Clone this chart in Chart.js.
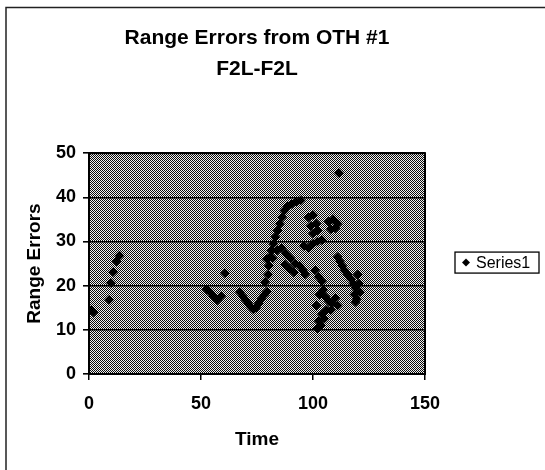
<!DOCTYPE html>
<html><head><meta charset="utf-8">
<script src="https://cdn.jsdelivr.net/npm/chart.js@4/dist/chart.umd.min.js"></script>
<style>html,body{margin:0;padding:0;background:#fff}#wrap{width:545px;height:470px;position:relative}</style>
</head><body><div id="wrap"><canvas id="c" width="545" height="470"></canvas></div>
<script>
const titleLines = ['Range Errors from OTH #1', 'F2L-F2L'];
const seriesName = 'Series1';
const xAxisTitle = 'Time';
const yAxisTitle = 'Range Errors';
const xTicks = [0, 50, 100, 150];
const yTicks = [0, 10, 20, 30, 40, 50];

const timeValues = [
  0, 1, 2, 9, 9.8, 10.8, 12.3, 13.6,
  52.5, 54, 55.5, 57.3, 59, 60.7,
  67.4, 68.6, 69.8, 71, 72.2, 73.4, 74.6, 75.8, 77, 78.2, 79.4, 78.6,
  80, 80.3, 80.7, 81.5, 82.3, 83.2, 84.2, 85.2, 86.2, 87.2, 88.7, 90.5, 92.5, 94.5,
  79.5, 82, 84, 86, 88, 90, 92, 94, 95.5, 96.5, 87.5, 89.5, 91.5,
  98, 100, 99, 101.5, 100, 102, 107, 109, 111, 108, 110, 96, 98, 100, 102, 104, 111.6,
  111, 112, 113, 114, 115.5, 117, 118, 119, 118.5, 119.5, 120, 120.5, 121, 119,
  101, 102.5, 104, 104.5, 103, 105.5, 107, 108.5, 110, 111, 108, 106, 104, 102.5, 103.5, 102, 105, 101.5
];
const rangeErrors = [
  14.2, 14.5, 14.0, 16.8, 20.6, 23.1, 25.5, 26.8,
  19.2, 18.5, 17.6, 16.7, 17.6, 22.8,
  18.5, 17.6, 16.8, 16, 15.2, 14.6, 15, 16, 17, 17.9, 18.6, 20.8,
  22.5, 24.5, 26.5, 28, 29.5, 31, 32.5, 34, 35.5, 37, 38, 38.5, 39, 39.3,
  26, 26.2, 28, 28.5, 27.2, 26.2, 25, 24.5, 23.5, 22.6, 24.8, 23.8, 23,
  35.5, 36, 33.5, 34, 31.8, 32.5, 34.5, 35, 34, 32.8, 33, 29, 28.5, 29.5, 30, 30.3, 45.5,
  26.5, 25.5, 24.5, 23.5, 22.5, 21.5, 20.5, 19.5, 18, 17, 22.5, 20.5, 18.5, 16.3,
  23.5, 22, 21, 19, 18, 17.5, 16.5, 16, 17.2, 15.5, 14.5, 14.5, 13.5, 12, 11, 10.3, 12.5, 15.5
];

const points = timeValues.map((t, i) => ({x: t, y: rangeErrors[i]}));
const FONT = 'Liberation Sans, Arial, Helvetica, sans-serif';

// dither pattern for the plot area
const pc = document.createElement('canvas');
pc.width = 2; pc.height = 2;
const pctx = pc.getContext('2d');
pctx.fillStyle = '#f0f0f0'; pctx.fillRect(0, 0, 2, 2);
pctx.fillStyle = '#0a0a0a'; pctx.fillRect(0, 0, 1, 1); pctx.fillRect(1, 1, 1, 1);

const bgPlugin = {
  id: 'bg',
  beforeDraw(chart) {
    const {ctx, chartArea: a} = chart;
    ctx.save();
    ctx.fillStyle = '#fff';
    ctx.fillRect(0, 0, chart.width, chart.height);
    ctx.strokeStyle = '#222';
    ctx.lineWidth = 1.5;
    ctx.strokeRect(6, 7.5, chart.width + 20, chart.height + 20);
    ctx.fillStyle = ctx.createPattern(pc, 'repeat');
    ctx.fillRect(a.left, a.top, a.right - a.left, a.bottom - a.top);
    ctx.restore();
  },
  beforeDatasetsDraw(chart) {
    const {ctx, chartArea: a} = chart;
    ctx.save();
    ctx.strokeStyle = '#000';
    ctx.lineWidth = 2;
    ctx.strokeRect(a.left, a.top, a.right - a.left, a.bottom - a.top);
    ctx.restore();
  },
  afterDraw(chart) {
    const {ctx, chartArea: a} = chart;
    const ds = chart.data.datasets[0];
    const bx = a.right + 30, bw = 84, bh = 21;
    const by = (a.top + a.bottom) / 2 - bh / 2 - 1;
    ctx.save();
    ctx.fillStyle = '#fff';
    ctx.fillRect(bx, by, bw, bh);
    ctx.strokeStyle = '#000';
    ctx.lineWidth = 1.3;
    ctx.strokeRect(bx, by, bw, bh);
    ctx.fillStyle = '#000';
    ctx.strokeStyle = '#000';
    Chart.helpers.drawPoint(ctx, {pointStyle: 'rectRot', radius: 4, borderWidth: 0, rotation: 0}, bx + 11, by + bh / 2);
    ctx.fillStyle = '#000';
    ctx.font = '16px ' + FONT;
    ctx.textBaseline = 'middle';
    ctx.textAlign = 'left';
    ctx.fillText(ds.label, bx + 21, by + bh / 2 + 1);
    ctx.restore();
  }
};

new Chart(document.getElementById('c'), {
  type: 'scatter',
  data: {
    datasets: [{
      label: seriesName,
      data: points,
      pointStyle: 'rectRot',
      pointRadius: 4.8,
      pointHoverRadius: 4.8,
      backgroundColor: '#000',
      borderColor: '#000',
      borderWidth: 0,
      showLine: false
    }]
  },
  options: {
    responsive: false,
    devicePixelRatio: 1,
    animation: false,
    layout: {padding: {left: 0, right: 120, top: 0, bottom: 0}},
    plugins: {
      legend: {display: false},
      tooltip: {enabled: false},
      title: {
        display: true,
        text: titleLines,
        fullSize: false,
        color: '#000',
        font: {family: FONT, size: 21, weight: 'bold', lineHeight: 1.48},
        padding: {top: 22.5, bottom: 68.5}
      }
    },
    scales: {
      x: {
        type: 'linear',
        min: 0, max: 150,
        afterBuildTicks: s => { s.ticks = xTicks.map(v => ({value: v})); },
        afterFit: s => { s.height = 96; },
        grid: {display: true, drawOnChartArea: false, drawTicks: true, tickLength: 6, color: '#000', lineWidth: 1.5},
        border: {display: true, color: '#000', width: 2},
        ticks: {color: '#000', padding: 13, maxRotation: 0, font: {family: FONT, size: 18, weight: 'bold'}},
        title: {display: true, text: xAxisTitle, color: '#000', padding: {top: 0, bottom: 19}, font: {family: FONT, size: 19, weight: 'bold'}}
      },
      y: {
        type: 'linear',
        min: 0, max: 50,
        afterBuildTicks: s => { s.ticks = yTicks.map(v => ({value: v})); },
        afterFit: s => { s.width = 89; },
        grid: {display: true, drawOnChartArea: true, drawTicks: true, tickLength: 6, color: '#000', lineWidth: 1.6},
        border: {display: true, color: '#000', width: 2},
        ticks: {color: '#000', padding: 7, font: {family: FONT, size: 18, weight: 'bold'}},
        title: {display: true, text: yAxisTitle, color: '#000', padding: {top: 23, bottom: 0}, font: {family: FONT, size: 19, weight: 'bold'}}
      }
    }
  },
  plugins: [bgPlugin]
});
</script></body></html>
